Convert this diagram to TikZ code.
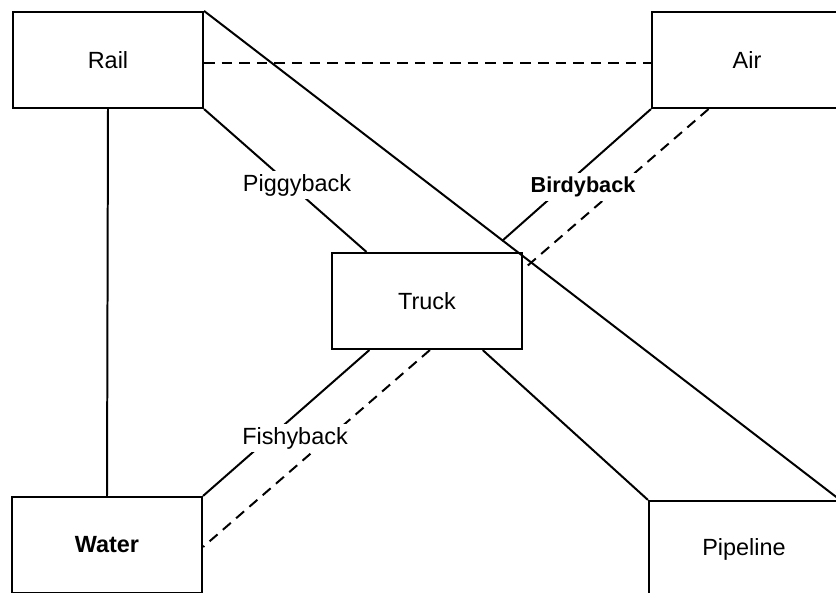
\documentclass[tikz,border=0pt]{standalone}
\usepackage{fontspec}
\setmainfont{Liberation Sans}
\usetikzlibrary{calc}
\tikzset{
  mode/.style={draw, line width=1.8pt, minimum width=5.7cm, minimum height=2.88cm,
               font=\fontsize{20}{24}\selectfont},
  link/.style={line width=1.7pt},
  dashlink/.style={link, dash pattern=on 9pt off 6pt},
  lbl/.style={fill=white, inner sep=3pt, font=\fontsize{20}{24}\selectfont},
}

\begin{document}
\begin{tikzpicture}[x=0.03cm, y=-0.03cm]
  \clip (0,0) rectangle (836,593);
  \node[mode] (rail) at (108,60) {Rail};
  \node[mode] (air) at (747,60) {Air};
  \node[mode] (truck) at (427,301) {Truck};
  \node[mode] (water) at (107,545) {\bfseries Water};
  \node[mode] (pipe) at (744,549) {Pipeline};
  % where the birdyback line stops on the long diagonal
  \coordinate (bjoin) at (502,241);
  \draw[link] (rail.south) -- (water.north);
  \draw[dashlink] ($(rail.north east)!0.53!(rail.south east)$)
    -- ($(air.north west)!0.53!(air.south west)$);
  \draw[link] (rail.north east) -- (pipe.north east);
  \draw[link] (rail.south east) -- ($(truck.north west)!0.185!(truck.north east)$);
  \draw[link] (air.south west) -- (bjoin);
  \draw[dashlink] ($(air.south west)!0.3!(air.south east)$)
    -- ($(truck.north east)!0.18!(truck.south east)$);
  \draw[link] ($(truck.south west)!0.2!(truck.south east)$) -- (water.north east);
  \draw[dashlink] ($(truck.south west)!0.515!(truck.south east)$)
    -- ($(water.north east)!0.52!(water.south east)$);
  \draw[link] ($(truck.south west)!0.79!(truck.south east)$) -- (pipe.north west);
  % labels on the links
  \node[lbl] (piggy) at (297,185) {Piggyback};
  \node[lbl, font=\fontsize{18.5}{22}\selectfont\bfseries] (birdy) at (583,187) {Birdyback};
  \node[lbl] (fishy) at (295,438) {Fishyback};
\end{tikzpicture}
\end{document}
